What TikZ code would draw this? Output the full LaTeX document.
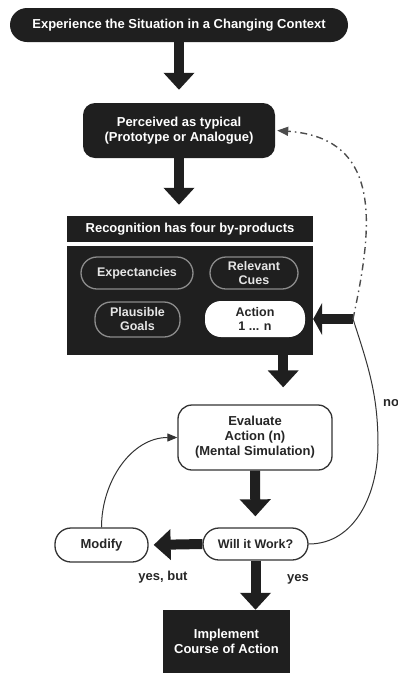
\documentclass[tikz,border=0pt]{standalone}
\usepackage{fontspec}
\setmainfont{Liberation Sans}
\usetikzlibrary{arrows.meta,calc}
\definecolor{ink}{gray}{0.12}
\begin{document}
\begin{tikzpicture}[x=1pt,y=-1pt,
  font=\fontsize{13}{15}\selectfont\bfseries,
  mid/.style={font=\fontsize{12.5}{14}\selectfont\bfseries},
  dk/.style={fill=ink, text=white, inner sep=0pt, align=center},
  pillin/.style={draw=black!45, line width=1.3pt, fill=ink, text=black!10, rounded corners=16pt, inner sep=0pt, align=center},
  wbox/.style={draw=black!80, line width=1.3pt, fill=white, text=black!85, inner sep=0pt, align=center},
  bigarrow/.style={line width=10pt, draw=ink, -{Triangle[width=30pt,length=17pt]}},
  thin/.style={line width=1pt, draw=black!80, -{Triangle[width=8pt,length=10pt]}},
  lbl/.style={text=black!85, inner sep=0pt}
]
\useasboundingbox (0,0) rectangle (398,673);
\node[dk, rounded corners=17pt, minimum width=338pt, minimum height=34pt] (top) at (179,25) {Experience the Situation in a Changing Context};
\node[dk, rounded corners=12pt, minimum width=192pt, minimum height=55pt] (per) at (179,130.5) {Perceived as typical\\(Prototype or Analogue)};
\node[dk, minimum width=246pt, minimum height=27pt] (rech) at (190,229.5) {Recognition has four by-products};
\node[dk, minimum width=246pt, minimum height=109pt] (recb) at (190,300.5) {};
\node[pillin, mid, minimum width=112pt, minimum height=32pt] (exp) at (137,273) {Expectancies};
\node[pillin, mid, minimum width=88pt, minimum height=32pt] (cue) at (254,273) {Relevant\\Cues};
\node[pillin, mid, minimum width=85pt, minimum height=35pt] (goal) at (137.5,319.5) {Plausible\\Goals};
\node[mid, fill=white, text=black!85, rounded corners=16pt, inner sep=0pt, align=center, minimum width=100pt, minimum height=36pt] (act) at (255,319) {Action\\1 ... n};
\node[wbox, rounded corners=14pt, minimum width=154pt, minimum height=65pt] (eval) at (255,437.5) {Evaluate\\Action (n)\\(Mental Simulation)};
\node[wbox, mid, rounded corners=16pt, minimum width=105pt, minimum height=32pt] (will) at (255.5,544) {Will it Work?};
\node[wbox, rounded corners=16pt, minimum width=93pt, minimum height=34pt] (mod) at (101.5,545) {Modify};
\node[dk, minimum width=127pt, minimum height=63pt] (impl) at (226.5,641.5) {Implement\\Course of Action};
\coordinate (J) at (353,319);
\coordinate (nob) at (378,445);
\node[lbl] (yb) at (163,577) {yes, but};
\node[lbl] (ys) at (298,579) {yes};
\node[lbl] (no) at (391,403) {no};
% arrows
\draw[bigarrow, shorten >=13pt] (top.south) -- (per.north);
\draw[bigarrow, shorten >=11pt] (per.south) -- (per.south |- rech.north);
\draw[line width=1.5pt, draw=white] (rech.south west) -- (rech.south east);
\draw[line width=10pt, draw=ink, -{Triangle[width=32pt,length=9pt]}] (J) -- (recb.east |- J);
\draw[bigarrow, shorten >=17pt] ([xshift=-22pt,yshift=-7pt]act.south east) -- ([xshift=-22pt]act.south east |- eval.north);
\draw[bigarrow, shorten >=11pt] (eval.south) -- (will.north);
\draw[bigarrow, shorten >=5pt] (will.west) -- (mod.east);
\draw[bigarrow] (will.south) -- (will.south |- impl.north);
\draw[thin] (mod.north) to[out=90,in=180] (eval.west);
\draw[line width=1pt, draw=black!80] (will.east) to[out=0,in=-90] (nob) to[out=90,in=-72] (J);
\draw[line width=1.4pt, draw=black!70, dash pattern=on 7pt off 4pt on 1.5pt off 4pt, -{Triangle[width=9pt,length=11pt]}] (J) .. controls (372,230) and (385,138) .. ([xshift=2pt]per.east);
\end{tikzpicture}
\end{document}
